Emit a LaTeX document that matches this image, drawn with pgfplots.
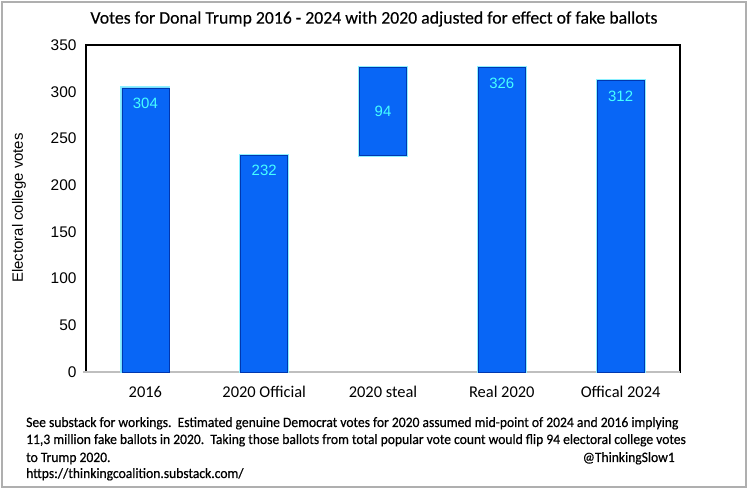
\documentclass[border=0pt]{standalone}
\usepackage{pgfplots}
\pgfplotsset{compat=1.18}
\usepackage{pgfplotstable}
\usepackage{fontspec}
\setmainfont{Liberation Sans}
\newfontfamily\aptos{Carlito}
\newfontfamily\aptosnarrow[FakeStretch=0.947,FakeBold=0.5]{Carlito}
\newfontfamily\aptostitle[FakeBold=0.3]{Carlito}
\definecolor{barblue}{RGB}{8,102,246}
\definecolor{baredge}{RGB}{0,55,175}
\definecolor{glow}{RGB}{140,240,255}
\definecolor{lblcyan}{RGB}{70,255,255}
\definecolor{framegray}{RGB}{175,175,175}

% shift: offset (pt) of the label from the middle of its bar segment
\pgfplotstableread{
x y label shift
0 304 304 127
1 232 232 93.4
2 94 94 0
3 326 326 137.3
4 312 312 130.7
}\votes

\pgfplotstableread{
x y
0 0
1 0
2 232
3 0
4 0
}\base

\begin{document}
\begin{tikzpicture}[x=1bp,y=1bp]
\useasboundingbox (0,0) rectangle (748,489);
\fill[white] (0,0) rectangle (748,489);
\draw[framegray, line width=1.5bp] (2,2) rectangle (746,487);

\begin{axis}[
  at={(86bp,117bp)}, anchor=south west,
  scale only axis, width=594bp, height=327bp,
  ymin=0, ymax=350, xmin=-0.5, xmax=4.5,
  ybar stacked, bar width=47bp,
  ytick={0,50,...,350},
  xtick={0,1,2,3,4},
  xticklabels={2016,2020 Official,2020 steal,Real 2020,Offical 2024},
  major tick length=0pt,
  /pgf/number format/assume math mode=true,
  yticklabel style={font=\fontsize{15.5}{18}\selectfont, xshift=-6bp},
  xticklabel style={font=\aptos\fontsize{16.5}{19}\selectfont, yshift=-11bp},
  axis line style={black, line width=1.2bp},
  clip=false,
]
\addplot[draw=none, fill=none] table[x=x,y=y] {\base};
\addplot[fill=barblue, draw=baredge, line width=0.8bp,
  preaction={draw=glow, line width=3bp},
  nodes near coords,
  point meta=explicit symbolic,
  visualization depends on={\thisrow{shift} \as \myshift},
  every node near coord/.append style={anchor=center, yshift=\myshift,
    font=\fontsize{15}{18}\selectfont, text=lblcyan},
] table[x=x,y=y,meta=label] {\votes};
\draw[framegray!80, line width=1.2bp] ([xshift=-3bp]rel axis cs:0,0) -- (rel axis cs:1,0);
\end{axis}

\node[rotate=90, font=\fontsize{15}{18}\selectfont] at (19,281) {Electoral college votes};
\node[font=\aptostitle\fontsize{17.8}{20}\selectfont] at (374,470) {Votes for Donal Trump 2016 - 2024 with 2020 adjusted for effect of fake ballots};

\begin{scope}[every node/.style={font=\aptosnarrow\fontsize{14.4}{16}\selectfont, anchor=base west, inner sep=0pt}]
\node at (26,62) {See substack for workings.\ \ Estimated genuine Democrat votes for 2020 assumed mid-point of 2024 and 2016 implying};
\node at (26,45) {11,3 million fake ballots in 2020.\ \ Taking those ballots from total popular vote count would flip 94 electoral college votes};
\node at (26,27) {to Trump 2020.};
\node[anchor=base east] at (675,27) {@ThinkingSlow1};
\node at (26,11) {https://thinkingcoalition.substack.com/};
\end{scope}
\end{tikzpicture}
\end{document}
